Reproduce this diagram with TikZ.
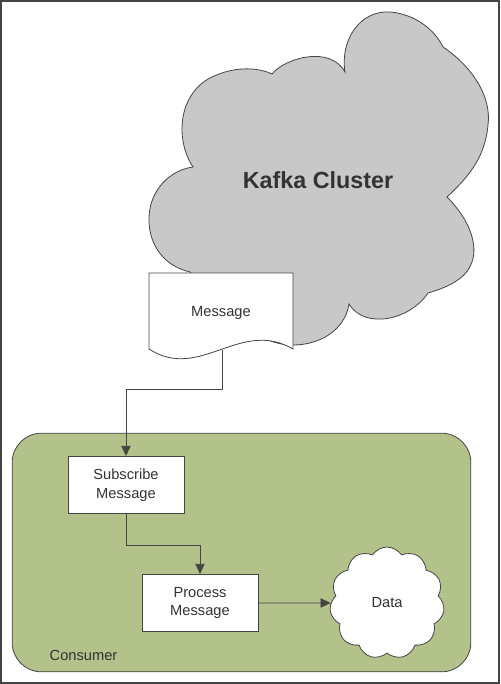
\documentclass[tikz,border=0pt]{standalone}
\usepackage{fontspec}
\setmainfont{Liberation Sans}
\usetikzlibrary{shapes,arrows,arrows.meta}
\definecolor{lineGray}{HTML}{444444}
\definecolor{textGray}{HTML}{333333}
\definecolor{kafkaGray}{HTML}{C8C8C8}
\definecolor{consumerGreen}{HTML}{B3C28A}
\tikzset{>={Triangle[length=7.5pt,width=7pt]}}
\tikzstyle{frame} = [draw=lineGray, line width=1.5pt]
\tikzstyle{kafkaCloud} = [draw=lineGray, fill=kafkaGray, line width=0.6pt]
\tikzstyle{docShape} = [draw=lineGray, fill=white, line width=0.6pt]
\tikzstyle{consumerBox} = [rectangle, draw=lineGray, fill=consumerGreen, rounded corners=22pt,
minimum width=344pt, minimum height=179pt, line width=0.6pt]
\tikzstyle{block} = [rectangle, draw=lineGray, fill=white, text centered, align=center,
minimum width=87pt, minimum height=43pt, line width=0.6pt, text=textGray, font=\fontsize{11}{14}\selectfont]
\tikzstyle{dataCloud} = [cloud, cloud puffs=11, cloud puff arc=115, aspect=1, draw=lineGray, fill=white,
minimum width=86pt, minimum height=84pt, line width=0.6pt, text=textGray, font=\fontsize{11}{14}\selectfont]
\tikzstyle{label} = [text=textGray, font=\fontsize{11}{14}\selectfont]
\tikzstyle{line} = [draw=lineGray, line width=0.6pt, ->]

\begin{document}
\begin{tikzpicture}[x=0.75pt, y=-0.75pt]

   \useasboundingbox (0,0) rectangle (500,684);
   \draw[frame] (1,1) rectangle (499,683);

   %% Kafka cluster
   \path[kafkaCloud] (272,74)
      .. controls (285,58) and (330,45) .. (345,72)
      .. controls (340,40) and (360,10) .. (390,12)
      .. controls (415,14) and (435,30) .. (443,47)
      .. controls (470,65) and (492,95) .. (488,125)
      .. controls (485,160) and (465,180) .. (447,197)
      .. controls (470,220) and (478,245) .. (472,262)
      .. controls (466,280) and (445,288) .. (428,293)
      .. controls (410,320) and (365,330) .. (349,304)
      .. controls (345,330) and (320,345) .. (293,345)
      .. controls (250,345) and (215,300) .. (190,272)
      .. controls (160,265) and (148,240) .. (149,217)
      .. controls (150,190) and (170,170) .. (193,167)
      .. controls (175,140) and (178,95) .. (210,78)
      .. controls (235,65) and (260,68) .. (272,74) -- cycle;

   \node[text=textGray, font=\fontsize{17.5}{20}\selectfont\bfseries] (kafka) at (318,180) {Kafka Cluster};

   %% Message document
   \path[docShape] (293,349) -- (293,273) -- (149,273) -- (149,349)
      .. controls (200,382) and (240,318) .. (293,349) -- cycle;
   \node[label] (msg) at (221,313) {Message};
   \coordinate (msgOut) at (222,350);

   %% Consumer
   \node[consumerBox] (consumer) at (241.5,552.5) {};
   \node[label, anchor=west] (consumerLabel) at (45,655) {Consumer};

   \node[block] (subscribe) at (126,485) {Subscribe\\Message};
   \node[block] (process) at (200,603) {Process\\Message};
   \node[dataCloud] (data) at (387,603) {Data};

   %% Lines
   \path[line] (msgOut) -- ++(0,39) -| (subscribe.north);
   \path[line] (subscribe.south) -- ++(0,31) -| (process.north);
   \path[line] (process.east) -- (data.west);

\end{tikzpicture}
\end{document}
